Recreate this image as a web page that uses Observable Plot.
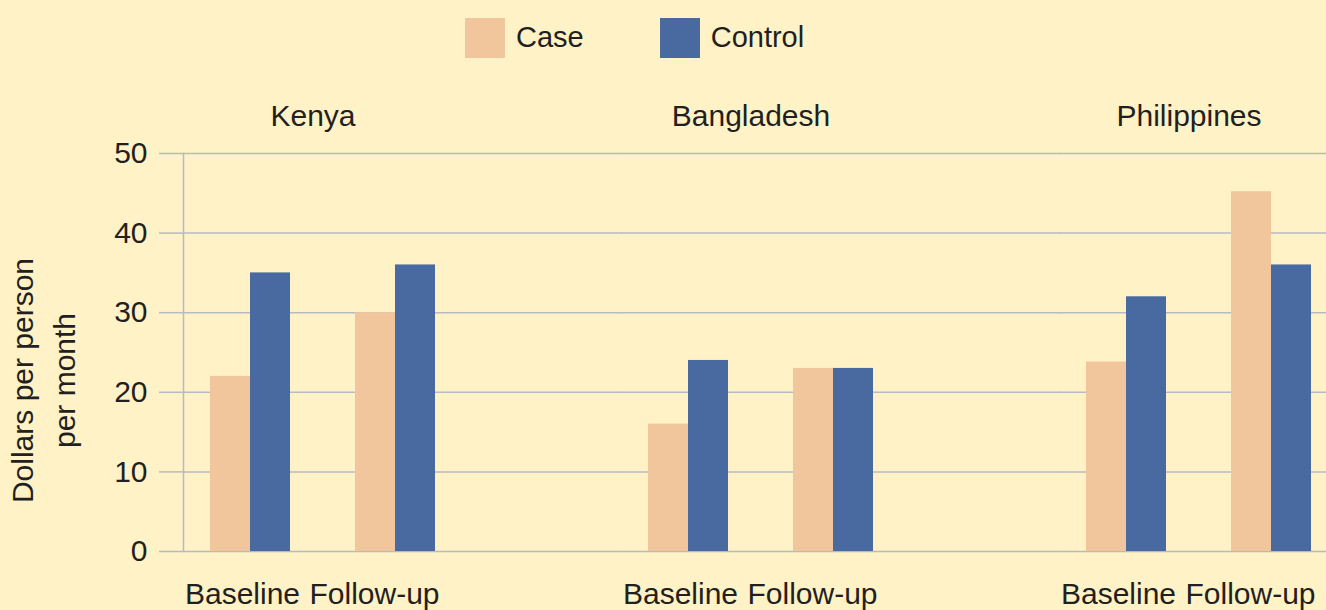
<!DOCTYPE html>
<html>
<head>
<meta charset="utf-8">
<script src="https://cdn.jsdelivr.net/npm/d3@7"></script>
<script src="https://cdn.jsdelivr.net/npm/@observablehq/plot@0.6"></script>
<style>
  html, body { margin: 0; padding: 0; background: #fef2c6; overflow: hidden; }
  body { width: 1326px; height: 610px; font-family: "Liberation Sans", Arial, sans-serif; color: #231f20; }
  #legend { height: 75px; display: flex; align-items: center; padding-left: 465px; gap: 76px; box-sizing: border-box; }
  .item { display: flex; align-items: center; gap: 11px; font-size: 29px; }
  .sw { width: 40px; height: 40px; }
  #chart svg { display: block; }
</style>
</head>
<body>
<div id="legend"></div>
<div id="chart"></div>
<script>
// ---- data ----
const countries = ["Kenya", "Bangladesh", "Philippines"];
const periods = ["Baseline", "Follow-up"];
const groups = ["Case", "Control"];
const groupColors = ["#f2c69c", "#486aa0"];
const caseBaseline = [22, 16, 23.8];
const caseFollowUp = [30, 23, 45.2];
const controlBaseline = [35, 24, 32];
const controlFollowUp = [36, 23, 36];
const yTicks = [0, 10, 20, 30, 40, 50];
const yLabel = "Dollars per person\nper month";

const bg = "#fef2c6";
const gridColor = "#b7bac4";
const textColor = "#231f20";
const fs = 30;

// ---- table ----
const rows = [];
countries.forEach((c, i) => {
  rows.push({country: c, period: periods[0], group: groups[0], value: caseBaseline[i]});
  rows.push({country: c, period: periods[0], group: groups[1], value: controlBaseline[i]});
  rows.push({country: c, period: periods[1], group: groups[0], value: caseFollowUp[i]});
  rows.push({country: c, period: periods[1], group: groups[1], value: controlFollowUp[i]});
});

// ---- legend ----
const legend = document.getElementById("legend");
groups.forEach((g, i) => {
  const item = document.createElement("div");
  item.className = "item";
  const sw = document.createElement("div");
  sw.className = "sw";
  sw.style.background = groupColors[i];
  const label = document.createElement("span");
  label.textContent = g;
  item.appendChild(sw);
  item.appendChild(label);
  legend.appendChild(item);
});

// ---- chart ----
const chart = Plot.plot({
  width: 1326,
  height: 535,
  marginTop: 78,
  marginBottom: 59,
  marginLeft: 182,
  marginRight: 0,
  style: {background: bg, fontFamily: '"Liberation Sans", Arial, sans-serif', color: textColor, overflow: "visible"},
  fx: {domain: countries, paddingInner: 0.391, paddingOuter: 0, axis: null},
  x: {domain: periods, paddingInner: 65 / 145, paddingOuter: 0, insetLeft: 27, insetRight: 15, axis: null},
  y: {domain: [0, 50], axis: null},
  marks: [
    Plot.ruleY(yTicks, {stroke: gridColor, strokeWidth: 1.5, insetRight: -172}),
    Plot.frame({anchor: "left", facetAnchor: "left", stroke: gridColor, strokeWidth: 1.5}),
    Plot.barY(rows.filter(d => d.group === groups[0]), {fx: "country", x: "period", y: "value", fill: groupColors[0], insetRight: 40}),
    Plot.barY(rows.filter(d => d.group === groups[1]), {fx: "country", x: "period", y: "value", fill: groupColors[1], insetLeft: 40}),
    Plot.axisY({ticks: yTicks, tickSize: 24, tickPadding: 12, fontSize: fs, stroke: gridColor, strokeWidth: 1.5, fill: textColor, label: null}),
    Plot.axisX({ticks: [periods[0]], tickSize: 0, tickPadding: 31, fontSize: fs, fill: textColor, label: null, dx: -8}),
    Plot.axisX({ticks: [periods[1]], tickSize: 0, tickPadding: 31, fontSize: fs, fill: textColor, label: null, dx: -21}),
    Plot.axisFx({anchor: "top", tickSize: 0, tickPadding: 28, fontSize: fs, fill: textColor, label: null, dx: -4}),
    Plot.text([yLabel], {text: d => d, frameAnchor: "left", rotate: -90, textAnchor: "middle", facetAnchor: "left", fontSize: fs, lineHeight: 1.4, dx: -143, dy: 28, fill: textColor})
  ]
});
document.getElementById("chart").appendChild(chart);
</script>
</body>
</html>
